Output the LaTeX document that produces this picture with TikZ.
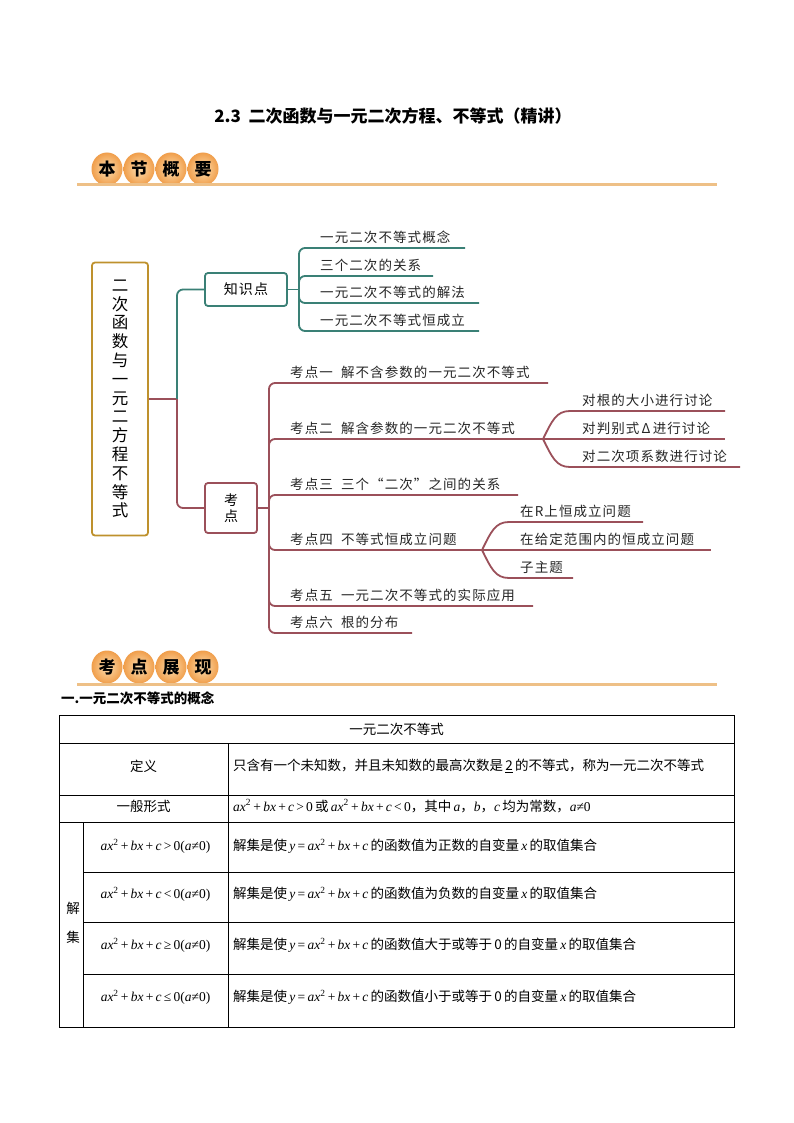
\documentclass[tikz,border=0pt]{standalone}
\usepackage{fontspec}
\setmainfont{Noto Sans CJK SC}
\newfontfamily\treefont[LetterSpace=8]{Noto Sans CJK SC}
\newfontfamily\tm{Liberation Serif}
\newcommand\mi[1]{{\tm\itshape #1}}
\newcommand\mr[1]{{\tm #1}}
\newcommand\qf{\mi{ax}\mr{\textsuperscript{2}\,+\,}\mi{bx}\mr{\,+\,}\mi{c}}
\definecolor{tealc}{RGB}{58,128,118}
\definecolor{redc}{RGB}{155,80,90}
\definecolor{goldc}{RGB}{190,145,45}
\definecolor{orline}{RGB}{238,192,135}
\definecolor{orin}{RGB}{253,222,175}
\definecolor{orout}{RGB}{240,158,75}
\tikzset{
  tl/.style={draw=tealc, line width=1.8pt, rounded corners=6pt},
  rl/.style={draw=redc, line width=1.8pt, rounded corners=6pt},
  rlc/.style={draw=redc, line width=1.8pt},
  leaf/.style={font=\treefont\fontsize{13.5}{16}\selectfont, anchor=base west, inner sep=0pt, text=black!85},
  cell/.style={font=\fontsize{13.5}{16}\selectfont, inner sep=0pt},
  badge/.style={font=\bfseries\fontsize{17}{17}\selectfont, inner sep=0pt},
  tab/.style={draw=black, line width=0.9pt}
}
\begin{document}
\begin{tikzpicture}[x=1pt,y=-1pt]
\useasboundingbox (0,0) rectangle (794,1123);
\fill[white] (0,0) rectangle (794,1123);

% title
\node[font=\bfseries\fontsize{17}{20}\selectfont] (title) at (393,116) {2.3\ \ 二次函数与一元二次方程、不等式（精讲）};

% header 1
\foreach \t [count=\i] in {本,节,概,要}{
  \shade[inner color=orin, outer color=orout] ({75+32*\i},169) ellipse [x radius=15.5, y radius=16.5];
  \node[badge] (ba\i) at ({75+32*\i},169) {\t};
}
\draw[orline, line width=3pt] (77,185) -- (717,185);

% tree root
\node[draw=goldc, line width=1.8pt, rounded corners=3pt, minimum width=56pt, minimum height=273pt,
      align=center, font=\fontsize{16.5}{18.8}\selectfont, inner sep=0pt] (root) at (120,399)
  {二\\次\\函\\数\\与\\一\\元\\二\\方\\程\\不\\等\\式};
\node[draw=tealc, line width=1.8pt, rounded corners=3pt, minimum width=82pt, minimum height=33pt,
      font=\treefont\fontsize{14}{16}\selectfont] (zs) at (246,289.5) {知识点};
\node[draw=redc, line width=1.8pt, rounded corners=3pt, minimum width=52pt, minimum height=50pt,
      align=center, font=\fontsize{14}{16}\selectfont] (kd) at (231,508) {考\\点};

\coordinate (rf) at (177,399);
\draw[rlc] (root.east) -- (rf);
\draw[tl] (rf) |- (zs.west);
\draw[rl] (rf) |- (kd.west);

% knowledge leaves
\coordinate (kf) at (299,289.5);
\draw[tl] (zs.east) -- (kf);
\node[leaf] (k1) at (320,242.5) {一元二次不等式概念};
\node[leaf] (k2) at (320,270.5) {三个二次的关系};
\node[leaf] (k3) at (320,297.5) {一元二次不等式的解法};
\node[leaf] (k4) at (320,325.5) {一元二次不等式恒成立};
\coordinate (k1e) at (465,248);
\coordinate (k2e) at (433,276);
\coordinate (k3e) at (479,303);
\coordinate (k4e) at (479,331);
\foreach \k in {k1e,k2e,k3e,k4e}{ \draw[tl] (kf) |- (\k); }

% exam points
\coordinate (df) at (269,508);
\draw[rl] (kd.east) -- (df);
\node[leaf] (d1) at (290,377.5) {考点一\ \ 解不含参数的一元二次不等式};
\node[leaf] (d2) at (290,433.5) {考点二\ \ 解含参数的一元二次不等式};
\node[leaf] (d3) at (290,489.5) {考点三\ \ 三个“二次”之间的关系};
\node[leaf] (d4) at (290,544.5) {考点四\ \ 不等式恒成立问题};
\node[leaf] (d5) at (290,600.5) {考点五\ \ 一元二次不等式的实际应用};
\node[leaf] (d6) at (290,627.5) {考点六\ \ 根的分布};
\coordinate (d1e) at (548,383);
\coordinate (d2e) at (543,439);
\coordinate (d3e) at (518,495);
\coordinate (d4e) at (482,550);
\coordinate (d5e) at (533,606);
\coordinate (d6e) at (412,633);
\foreach \k in {d1e,d2e,d3e,d4e,d5e,d6e}{ \draw[rl] (df) |- (\k); }

% sub leaves of 考点二
\node[leaf] (s1) at (582,405.5) {对根的大小进行讨论};
\node[leaf] (s2) at (582,433.5) {对判别式\,Δ\,进行讨论};
\node[leaf] (s3) at (582,461.5) {对二次项系数进行讨论};
\coordinate (s1e) at (725,411);
\coordinate (s2e) at (725,439);
\coordinate (s3e) at (740,467);
\draw[rlc] (d2e) .. controls (552,421) and (556,411) .. (570,411) -- (s1e);
\draw[rlc] (d2e) -- (s2e);
\draw[rlc] (d2e) .. controls (552,457) and (556,467) .. (570,467) -- (s3e);

% sub leaves of 考点四
\node[leaf] (t1) at (520,516.5) {在R上恒成立问题};
\node[leaf] (t2) at (520,544.5) {在给定范围内的恒成立问题};
\node[leaf] (t3) at (520,572.5) {子主题};
\coordinate (t1e) at (643,522);
\coordinate (t2e) at (711,550);
\coordinate (t3e) at (573,578);
\draw[rlc] (d4e) .. controls (491,532) and (495,522) .. (509,522) -- (t1e);
\draw[rlc] (d4e) -- (t2e);
\draw[rlc] (d4e) .. controls (491,568) and (495,578) .. (509,578) -- (t3e);

% header 2
\foreach \t [count=\i] in {考,点,展,现}{
  \shade[inner color=orin, outer color=orout] ({75+32*\i},667) ellipse [x radius=15.5, y radius=16.5];
  \node[badge] (bb\i) at ({75+32*\i},667) {\t};
}
\draw[orline, line width=3pt] (77,684) -- (717,684);

\node[font=\bfseries\fontsize{13.5}{16}\selectfont, anchor=west, inner sep=0pt] (sec) at (61,698) {一.一元二次不等式的概念};

% table
\draw[tab] (59,715) rectangle (734,1027);
\draw[tab] (59,743) -- (734,743);
\draw[tab] (59,795) -- (734,795);
\draw[tab] (59,822) -- (734,822);
\draw[tab] (83,872) -- (734,872);
\draw[tab] (83,922) -- (734,922);
\draw[tab] (83,974) -- (734,974);
\draw[tab] (228,743) -- (228,1027);
\draw[tab] (83,822) -- (83,1027);

\node[cell] (h) at (396.5,729) {一元二次不等式};
\node[cell] (c1) at (143.5,766) {定义};
\node[cell, anchor=west] (c2) at (233,766) {只含有一个未知数，并且未知数的最高次数是\,\underline{2}\,的不等式，称为一元二次不等式};
\node[cell] (c3) at (143.5,806) {一般形式};
\node[cell, anchor=west] (c4) at (233,806) {\qf\mr{\,>\,0}\,或\,\qf\mr{\,<\,0}，其中\,\mi{a}，\mi{b}，\mi{c}\,均为常数，\mi{a}\mr{≠0}};
\node[cell] (j1) at (73,908) {解};
\node[cell] (j2) at (73,937) {集};
\node[cell] (f1) at (155.5,846) {\qf\mr{\,>\,0(}\mi{a}\mr{≠0)}};
\node[cell] (f2) at (155.5,894) {\qf\mr{\,<\,0(}\mi{a}\mr{≠0)}};
\node[cell] (f3) at (155.5,945) {\qf\mr{\,≥\,0(}\mi{a}\mr{≠0)}};
\node[cell] (f4) at (155.5,997) {\qf\mr{\,≤\,0(}\mi{a}\mr{≠0)}};
\node[cell, anchor=west] (g1) at (233,846) {解集是使\,\mi{y}\mr{\,=\,}\qf\,的函数值为正数的自变量\,\mi{x}\,的取值集合};
\node[cell, anchor=west] (g2) at (233,894) {解集是使\,\mi{y}\mr{\,=\,}\qf\,的函数值为负数的自变量\,\mi{x}\,的取值集合};
\node[cell, anchor=west] (g3) at (233,945) {解集是使\,\mi{y}\mr{\,=\,}\qf\,的函数值大于或等于\,0\,的自变量\,\mi{x}\,的取值集合};
\node[cell, anchor=west] (g4) at (233,997) {解集是使\,\mi{y}\mr{\,=\,}\qf\,的函数值小于或等于\,0\,的自变量\,\mi{x}\,的取值集合};
\end{tikzpicture}
\end{document}
